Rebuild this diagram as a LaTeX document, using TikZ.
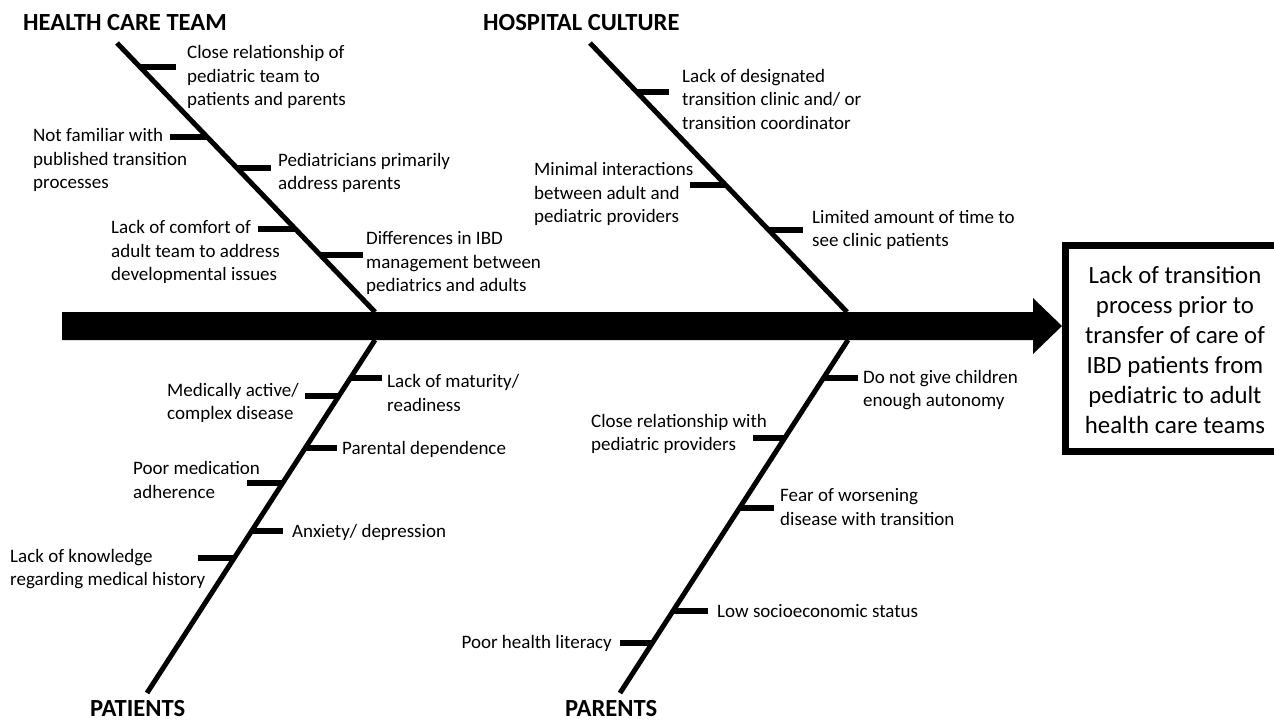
\documentclass[tikz,border=0pt]{standalone}
\usepackage{fontspec}
\setmainfont{Carlito}
\begin{document}
\begin{tikzpicture}[x=1pt,y=-1pt,
  spine/.style={line width=5pt},
  ribline/.style={line width=6pt},
  lbl/.style={font=\fontsize{19}{23.5}\selectfont, align=left, inner sep=0pt, anchor=west},
  ttl/.style={font=\fontsize{24.6}{28}\selectfont\bfseries, inner sep=0pt, anchor=west},
  effect/.style={font=\fontsize{24.8}{30}\selectfont, align=center, inner sep=0pt}]
\useasboundingbox (0,0) rectangle (1274,724);

% main bar with arrow head
\fill (62,312) -- (1033,312) -- (1033,298) -- (1062,326) -- (1033,354) -- (1033,340) -- (62,340) -- cycle;

% effect box
\draw[line width=7pt] (1065.5,245.5) rectangle (1310,451.5);
\node[effect] (eff) at (1175,350) {Lack of transition\\process prior to\\transfer of care of\\IBD patients from\\pediatric to adult\\health care teams};

% titles
\node[ttl] (tHCT) at (23,23) {HEALTH CARE TEAM};
\node[ttl] (tHC) at (483,23) {HOSPITAL CULTURE};
\node[ttl] (tPAT) at (90,709) {PATIENTS};
\node[ttl] (tPAR) at (565,709) {PARENTS};

% spines
\coordinate (hctT) at (117,43);  \coordinate (hctB) at (375,312);
\coordinate (hcT) at (590,43);   \coordinate (hcB) at (847,312);
\coordinate (patT) at (375,340); \coordinate (patB) at (147,693);
\coordinate (parT) at (848,340); \coordinate (parB) at (620,693);
\draw[spine] (hctT) -- (hctB);
\draw[spine] (hcT) -- (hcB);
\draw[spine] (patT) -- (patB);
\draw[spine] (parT) -- (parB);

% ---- Health care team ribs
\coordinate (a1s) at (140,67);  \coordinate (a1e) at (176,67);
\coordinate (a2s) at (207,137); \coordinate (a2e) at (170,137);
\coordinate (a3s) at (237,168); \coordinate (a3e) at (271,168);
\coordinate (a4s) at (295,229); \coordinate (a4e) at (258,229);
\coordinate (a5s) at (320,255); \coordinate (a5e) at (363,255);
\foreach \i in {1,...,5} {\draw[ribline] (a\i s) -- (a\i e);}
\node[lbl] (a1) at (187,77) {Close relationship of\\pediatric team to\\patients and parents};
\node[lbl] (a2) at (33,160) {Not familiar with\\published transition\\processes};
\node[lbl] (a3) at (278,173) {Pediatricians primarily\\address parents};
\node[lbl] (a4) at (111,252) {Lack of comfort of\\adult team to address\\developmental issues};
\node[lbl] (a5) at (366,263) {Differences in IBD\\management between\\pediatrics and adults};

% ---- Hospital culture ribs
\coordinate (b1s) at (637,92);  \coordinate (b1e) at (669,92);
\coordinate (b2s) at (726,185); \coordinate (b2e) at (690,185);
\coordinate (b3s) at (769,230); \coordinate (b3e) at (803,230);
\foreach \i in {1,...,3} {\draw[ribline] (b\i s) -- (b\i e);}
\node[lbl] (b1) at (682,99) {Lack of designated\\transition clinic and/ or\\transition coordinator};
\node[lbl] (b2) at (534,194) {Minimal interactions\\between adult and\\pediatric providers};
\node[lbl] (b3) at (812,230) {Limited amount of time to\\see clinic patients};

% ---- Patients ribs
\coordinate (c1s) at (350,378); \coordinate (c1e) at (382,378);
\coordinate (c2s) at (339,396); \coordinate (c2e) at (305,396);
\coordinate (c3s) at (305,448); \coordinate (c3e) at (337,448);
\coordinate (c4s) at (283,483); \coordinate (c4e) at (247,483);
\coordinate (c5s) at (252,531); \coordinate (c5e) at (283,531);
\coordinate (c6s) at (234,558); \coordinate (c6e) at (198,558);
\foreach \i in {1,...,6} {\draw[ribline] (c\i s) -- (c\i e);}
\node[lbl] (c1) at (387,393) {Lack of maturity/\\readiness};
\node[lbl] (c2) at (167,403) {Medically active/\\complex disease};
\node[lbl] (c3) at (342,449) {Parental dependence};
\node[lbl] (c4) at (133,480) {Poor medication\\adherence};
\node[lbl] (c5) at (292,532) {Anxiety/ depression};
\node[lbl] (c6) at (10,569) {Lack of knowledge\\regarding medical history};

% ---- Parents ribs
\coordinate (d1s) at (823,378); \coordinate (d1e) at (858,378);
\coordinate (d2s) at (785,438); \coordinate (d2e) at (753,438);
\coordinate (d3s) at (739,508); \coordinate (d3e) at (774,508);
\coordinate (d4s) at (673,611); \coordinate (d4e) at (708,611);
\coordinate (d5s) at (652,643); \coordinate (d5e) at (620,643);
\foreach \i in {1,...,5} {\draw[ribline] (d\i s) -- (d\i e);}
\node[lbl] (d1) at (863,390) {Do not give children\\enough autonomy};
\node[lbl] (d2) at (591,434) {Close relationship with\\pediatric providers};
\node[lbl] (d3) at (780,507) {Fear of worsening\\disease with transition};
\node[lbl] (d4) at (717,611) {Low socioeconomic status};
\node[lbl, anchor=east] (d5) at (612,643) {Poor health literacy};
\end{tikzpicture}
\end{document}
